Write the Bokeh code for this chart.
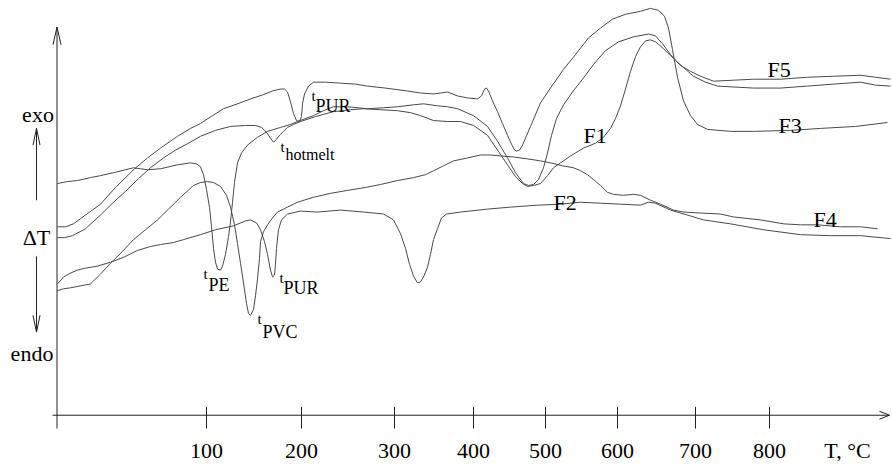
from bokeh.plotting import figure
from bokeh.models import Range1d, FixedTicker
from bokeh.core.properties import value
from bokeh.embed import file_html
from bokeh.resources import INLINE

# ---------------- data (x: position along the temperature scale, y: ΔT, arbitrary units) -------------
F1 = [(0,180),(7,180),(15,182),(28,189),(43,203),(55,215),(68,227),(81,240),(93,251),(106,261),
      (118,269),(131,276),(143,283),(158,289),(173,293),(188,294),(198,294),(204,292),(209,287),
      (213,281),(216,277),(219,280),(222,284),(226,288),(230,292),(236,295),(243,298),(258,303),
      (276,308),(293,310),(306,311),(323,310),(340,309),(353,307),(363,304),(376,299),(390,298),
      (403,298),(416,294),(430,284),(440,269),(450,254),(458,242),(465,235),(470,232),(476,233),
      (483,235),(490,243),(496,251),(503,256),(513,263),(526,271),(538,276),(546,282),(553,291),
      (558,301),(563,314),(568,331),(573,349),(578,364),(583,374),(588,380),(593,381),(598,379),
      (606,372),(613,365),(618,360),(636,344),(648,338),(660,334),(696,332),(723,332),(750,334),
      (776,336),(803,338),(818,335),(833,334)]

F2 = [(0,133),(6,140),(13,144),(20,147),(28,149),(40,151),(53,155),(66,160),(80,167),(93,171),
      (103,173),(116,175),(126,178),(143,183),(158,188),(176,192),(188,197),(193,198),(199,195),
      (203,188),(207,176),(210,163),(213,147),(215,140),(217,142),(218,153),(219,169),(221,188),
      (224,198),(230,204),(243,207),(260,206),(283,208),(306,206),(326,204),(336,198),(343,184),
      (348,169),(352,153),(356,141),(360,134),(363,135),(366,140),(370,150),(373,163),(376,178),
      (380,189),(384,200),(389,204),(403,206),(430,209),(453,211),(480,213),(503,214),(523,216),
      (543,215),(563,214),(583,213),(591,216),(598,215),(613,208),(633,202),(646,198),(673,194),
      (706,188),(743,183),(773,182),(803,182),(833,179)]

F3 = [(0,191),(8,191),(16,194),(28,203),(43,214),(58,231),(76,249),(90,261),(103,271),(120,283),
      (133,291),(143,296),(155,304),(166,311),(180,316),(193,321),(205,325),(215,329),(223,331),
      (227,331),(230,328),(233,318),(236,306),(239,299),(242,298),(244,303),(245,316),(247,326),
      (251,334),(256,338),(268,338),(283,337),(298,336),(310,334),(328,332),(350,329),(363,327),
      (376,326),(383,327),(390,328),(395,326),(400,324),(410,322),(420,321),(424,324),(427,331),
      (429,332),(431,329),(435,319),(440,308),(445,296),(450,284),(454,275),(457,269),(459,268),
      (462,269),(465,274),(473,293),(483,317),(495,335),(506,351),(518,366),(531,383),(543,393),
      (555,402),(568,407),(583,410),(593,413),(601,411),(607,405),(611,393),(615,371),(620,343),
      (626,319),(633,304),(640,295),(650,290),(673,288),(696,288),(733,289),(763,291),(798,293),
      (830,297)]

F4 = [(0,126),(6,128),(13,129),(23,131),(33,133),(43,143),(53,154),(65,166),(76,178),(88,188),
      (100,198),(111,209),(123,221),(136,233),(143,236),(150,237),(156,236),(163,232),(169,223),
      (173,211),(177,193),(180,174),(183,154),(186,134),(189,113),(191,103),(193,101),(196,107),
      (198,121),(200,138),(202,159),(203,176),(206,186),(210,193),(215,200),(220,206),(230,211),
      (240,216),(256,221),(273,225),(290,228),(308,231),(323,234),(340,238),(356,241),(368,244),
      (376,248),(386,253),(396,258),(410,261),(423,264),(433,264),(443,263),(456,262),(470,260),
      (483,258),(493,256),(505,253),(516,251),(523,248),(530,244),(536,239),(543,233),(550,226),
      (556,224),(566,223),(576,224),(583,223),(593,218),(603,214),(616,208),(626,206),(643,205),
      (663,204),(676,201),(703,198),(726,194),(743,193),(760,193),(783,191),(803,191),(820,189)]

F5 = [(0,235),(10,237),(20,238),(33,241),(43,243),(56,246),(68,249),(76,251),(83,250),(90,249),
      (103,250),(120,254),(133,256),(139,255),(143,252),(146,244),(149,229),(152,211),(154,191),
      (156,169),(158,155),(160,148),(163,147),(165,151),(168,163),(171,181),(173,196),(175,216),
      (177,236),(180,256),(184,266),(190,274),(200,282),(210,288),(223,292),(233,295),(240,298),
      (256,304),(266,309),(276,313),(290,313),(310,311),(326,312),(340,313),(356,315),(366,316),
      (380,314),(390,313),(400,311),(416,304),(430,293),(440,278),(450,261),(458,246),(466,235),
      (471,233),(476,234),(481,239),(486,251),(490,266),(494,284),(499,301),(506,315),(515,328),
      (525,341),(536,356),(548,370),(561,379),(576,384),(591,387),(598,385),(605,377),(613,366),
      (623,355),(633,349),(643,344),(656,339),(676,340),(696,341),(723,341),(750,343),(776,344),
      (803,345),(818,343),(833,341)]

CURVES = [F1, F2, F3, F4, F5]
CURVE_NAMES = ["F1", "F2", "F3", "F4", "F5"]

TICK_POS = [149, 244, 337, 416, 488, 560, 638, 712]
TICK_LABELS = ["100", "200", "300", "400", "500", "600", "700", "800"]
X_TITLE = "T, °C"
X_TITLE_POS = 790

PEAK_T = ["t", "t", "t", "t", "t"]
PEAK_SUB = ["PE", "PVC", "PUR", "PUR", "hotmelt"]

SIDE_LABELS = ["exo", "ΔT", "endo"]

# ---------------- layout (positions / styles) ----------------
FONT = value("Liberation Serif")
LINE_COLOR = "#4a4a4a"
AXIS_COLOR = "#222222"

NAME_X = [526, 496, 721, 756, 710]
NAME_Y = [284, 216, 294, 198, 351]

PEAK_T_X = [146, 200, 222, 254, 223]
PEAK_T_Y = [143, 97, 139, 324, 272]
PEAK_SUB_X = [151, 205, 226, 258, 228]
PEAK_SUB_Y = [132, 84, 129, 314, 264]
PEAK_SUB_SIZE = ["18px", "18px", "18px", "18px", "16px"]

SIDE_X = [-19.5, -21, -25.5]
SIDE_Y = [305, 180, 62]

p = figure(width=892, height=465, x_range=Range1d(-57, 835), y_range=Range1d(-15, 421),
           output_backend="svg", toolbar_location=None, y_axis_location=None,
           x_axis_location="below", min_border=0)
p.min_border_left = 0
p.min_border_right = 0
p.min_border_top = 0
p.min_border_bottom = 29
p.xgrid.visible = False
p.ygrid.visible = False
p.outline_line_color = None
p.background_fill_color = "white"
p.border_fill_color = "white"

# axis: provides the tick labels (and the "T, °C" title at its position)
ax = p.xaxis[0]
ax_ticks = TICK_POS + [X_TITLE_POS]
ax.ticker = FixedTicker(ticks=ax_ticks, minor_ticks=[])
ax.major_label_overrides = {pos: lab for pos, lab in zip(ax_ticks, TICK_LABELS + [X_TITLE])}
ax.axis_line_color = None
ax.major_tick_line_color = None
ax.major_tick_in = 0
ax.major_tick_out = 0
ax.minor_tick_in = 0
ax.minor_tick_out = 0
ax.major_label_standoff = 8
ax.major_label_text_font = "Liberation Serif"
ax.major_label_text_font_size = "22px"
ax.major_label_text_color = "black"

# tick marks crossing the axis line
p.segment(x0=TICK_POS, y0=[-14] * len(TICK_POS), x1=TICK_POS, y1=[8] * len(TICK_POS),
          line_color=AXIS_COLOR, line_width=1)

# axes with arrows
y_top = 394
x_end = 832
p.line([-0.5, -0.5], [-14, y_top], line_color=AXIS_COLOR, line_width=1)
p.line([-4.5, -0.5, 3.5], [y_top - 18, y_top, y_top - 18], line_color=AXIS_COLOR, line_width=1)
p.line([-5, x_end], [-0.5, -0.5], line_color=AXIS_COLOR, line_width=1)
p.line([x_end - 10, x_end, x_end - 10], [3.5, -0.5, -4.5], line_color=AXIS_COLOR, line_width=1)

# exo / endo arrows
ax_x = -21
p.line([ax_x, ax_x], [218, 291], line_color=AXIS_COLOR, line_width=1)
p.line([ax_x - 3.5, ax_x, ax_x + 3.5], [274, 291, 274], line_color=AXIS_COLOR, line_width=1)
p.line([ax_x, ax_x], [161, 84], line_color=AXIS_COLOR, line_width=1)
p.line([ax_x - 3.5, ax_x, ax_x + 3.5], [101, 84, 101], line_color=AXIS_COLOR, line_width=1)

for c in CURVES:
    xs = [pt[0] for pt in c]
    ys = [pt[1] for pt in c]
    p.line(xs, ys, line_color=LINE_COLOR, line_width=1, line_join="round")

p.text(x=NAME_X, y=NAME_Y, text=CURVE_NAMES, text_font=FONT, text_font_size="22px",
       text_align="left", text_baseline="alphabetic", text_color="black")
p.text(x=PEAK_T_X, y=PEAK_T_Y, text=PEAK_T, text_font=FONT, text_font_size="15px",
       text_align="left", text_baseline="alphabetic", text_color="black")
for sx, sy, st, ss in zip(PEAK_SUB_X, PEAK_SUB_Y, PEAK_SUB, PEAK_SUB_SIZE):
    p.text(x=[sx], y=[sy], text=[st], text_font=FONT, text_font_size=ss,
           text_align="left", text_baseline="alphabetic", text_color="black")
p.text(x=SIDE_X, y=SIDE_Y, text=SIDE_LABELS, text_font=FONT, text_font_size="22px",
       text_align="center", text_baseline="alphabetic", text_color="black")

open("out.html", "w").write(file_html(p, INLINE))
